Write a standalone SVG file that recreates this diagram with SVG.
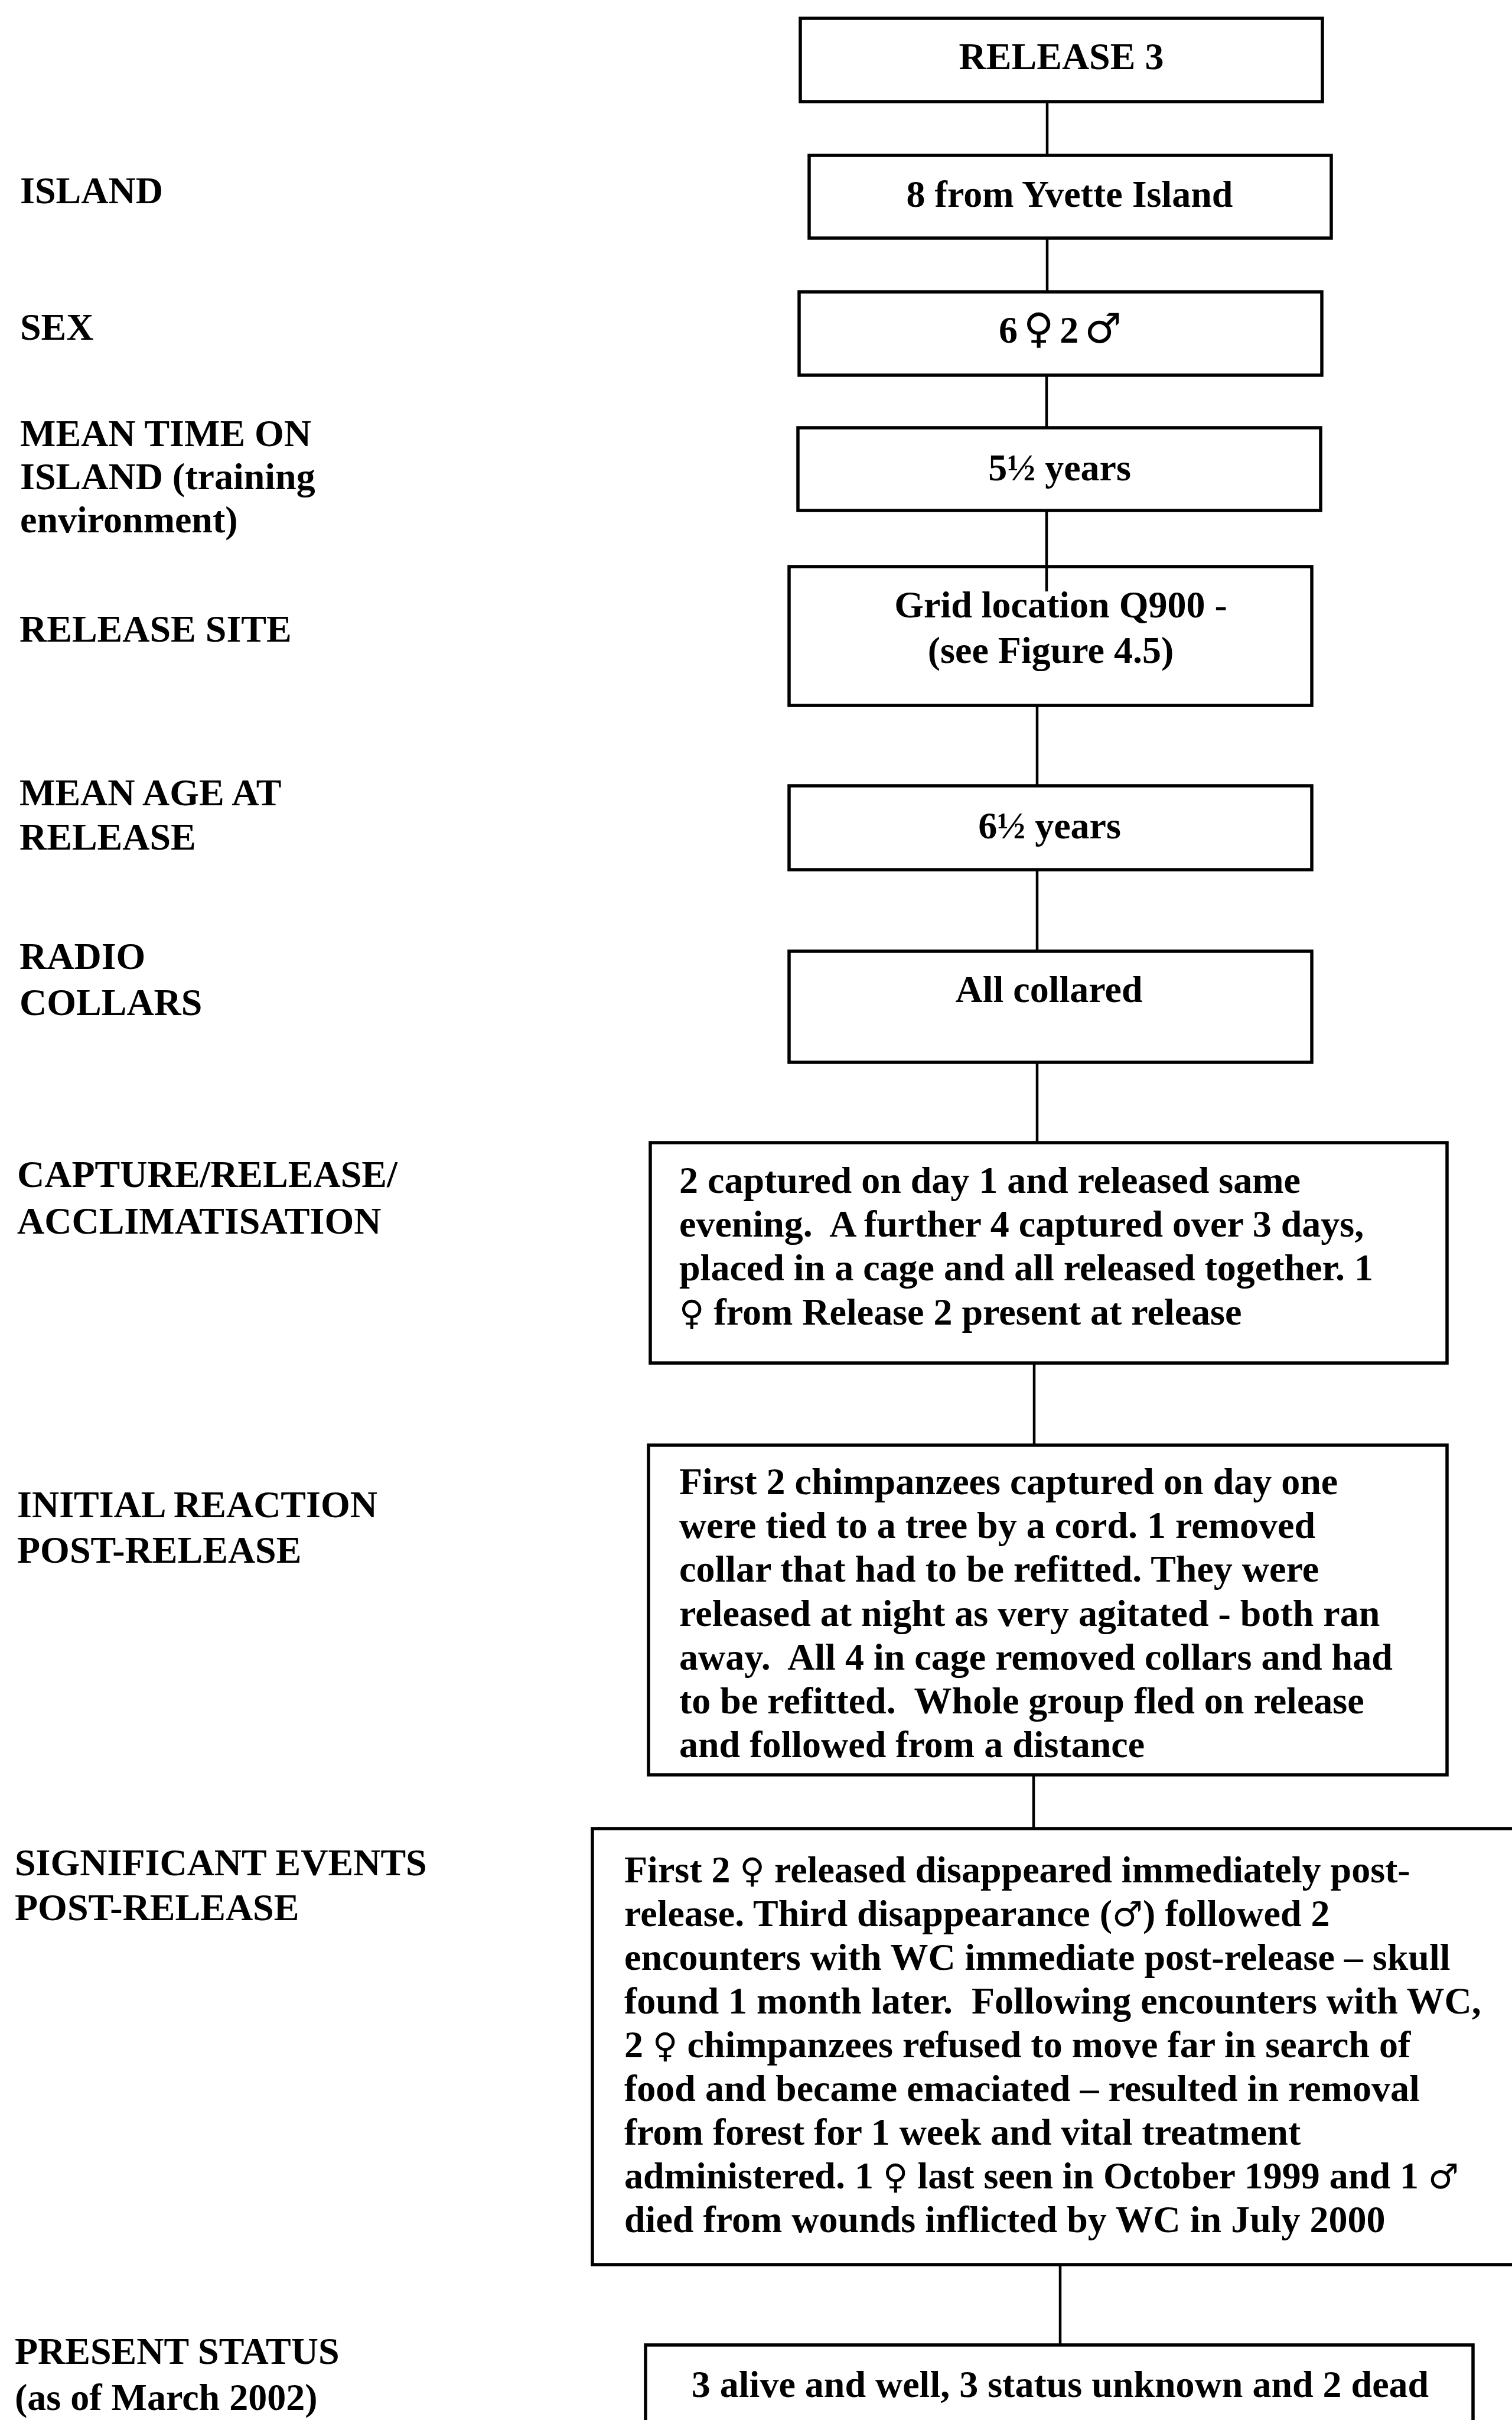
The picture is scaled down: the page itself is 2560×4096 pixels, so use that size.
<svg xmlns="http://www.w3.org/2000/svg" width="2560" height="4096" viewBox="0 0 2560 4096">
<style>
  .bg { fill: #ffffff; }
  .box { fill: #ffffff; stroke: #000000; stroke-width: 5.5; }
  .conn { stroke: #000000; stroke-width: 4.5; fill: none; }
  text { font-family: "Liberation Serif", "Times New Roman", serif; font-weight: bold; font-size: 64px; fill: #000000; }
  .c { text-anchor: middle; }
  .sym { font-family: "DejaVu Sans", sans-serif; font-weight: normal; font-size: 58px; }
  .symL { font-family: "DejaVu Sans", sans-serif; font-weight: normal; font-size: 70px; }
</style>
<rect class="bg" x="0" y="0" width="2560" height="4096"/>

<g id="labels">
  <text x="34" y="344">ISLAND</text>
  <text x="34" y="575">SEX</text>
  <text x="34" y="755">MEAN TIME ON</text>
  <text x="34" y="828">ISLAND (training</text>
  <text x="34" y="901">environment)</text>
  <text x="33" y="1086">RELEASE SITE</text>
  <text x="33" y="1363">MEAN AGE AT</text>
  <text x="33" y="1438">RELEASE</text>
  <text x="33" y="1640">RADIO</text>
  <text x="33" y="1718">COLLARS</text>
  <text x="29" y="2009">CAPTURE/RELEASE/</text>
  <text x="29" y="2088">ACCLIMATISATION</text>
  <text x="29" y="2568">INITIAL REACTION</text>
  <text x="29" y="2645">POST-RELEASE</text>
  <text x="25" y="3174">SIGNIFICANT EVENTS</text>
  <text x="25" y="3250">POST-RELEASE</text>
  <text x="25" y="4001">PRESENT STATUS</text>
  <text x="25" y="4079">(as of March 2002)</text>
</g>

<g id="connectors">
  <line class="conn" x1="1773" y1="172" x2="1773" y2="263"/>
  <line class="conn" x1="1773" y1="403" x2="1773" y2="494"/>
  <line class="conn" x1="1772" y1="635" x2="1772" y2="724"/>
  <line class="conn" x1="1772" y1="864" x2="1772" y2="1001"/>
  <line class="conn" x1="1756" y1="1194" x2="1756" y2="1330"/>
  <line class="conn" x1="1756" y1="1472" x2="1756" y2="1610"/>
  <line class="conn" x1="1756" y1="1798" x2="1756" y2="1934"/>
  <line class="conn" x1="1751" y1="2307" x2="1751" y2="2446"/>
  <line class="conn" x1="1750" y1="3004" x2="1750" y2="3095"/>
  <line class="conn" x1="1795" y1="3833" x2="1795" y2="3969"/>
</g>

<g id="node-release3">
  <rect class="box" x="1355" y="31" width="884" height="141"/>
  <text class="c" x="1797" y="117">RELEASE 3</text>
</g>

<g id="node-island">
  <rect class="box" x="1370" y="263" width="884" height="140"/>
  <text class="c" x="1811" y="350">8 from Yvette Island</text>
</g>

<g id="node-sex">
  <rect class="box" x="1353" y="494" width="885" height="141"/>
  <text class="c" x="1795" y="580">6<tspan class="symL" dx="10">♀</tspan><tspan dx="10">2</tspan><tspan class="symL" dx="10">♂</tspan></text>
</g>

<g id="node-time">
  <rect class="box" x="1351" y="724" width="885" height="140"/>
  <text class="c" x="1794" y="813">5½ years</text>
</g>

<g id="node-site">
  <rect class="box" x="1336" y="959" width="885" height="235"/>
  <line class="conn" x1="1772" y1="959" x2="1772" y2="1001"/>
  <text class="c" x="1796" y="1045">Grid location Q900 -</text>
  <text class="c" x="1779" y="1122">(see Figure 4.5)</text>
</g>

<g id="node-age">
  <rect class="box" x="1336" y="1330" width="885" height="142"/>
  <text class="c" x="1777" y="1419">6½ years</text>
</g>

<g id="node-collars">
  <rect class="box" x="1336" y="1610" width="885" height="188"/>
  <text class="c" x="1776" y="1696">All collared</text>
</g>

<g id="node-capture">
  <rect class="box" x="1101" y="1934" width="1349" height="373"/>
  <text x="1150" y="2019">2 captured on day 1 and released same</text>
  <text x="1150" y="2093">evening.&#160; A further 4 captured over 3 days,</text>
  <text x="1150" y="2167">placed in a cage and all released together. 1</text>
  <text x="1150" y="2242"><tspan class="sym">♀</tspan> from Release 2 present at release</text>
</g>

<g id="node-reaction">
  <rect class="box" x="1098" y="2446" width="1352" height="558"/>
  <text x="1150" y="2529">First 2 chimpanzees captured on day one</text>
  <text x="1150" y="2603">were tied to a tree by a cord. 1 removed</text>
  <text x="1150" y="2677">collar that had to be refitted. They were</text>
  <text x="1150" y="2752">released at night as very agitated - both ran</text>
  <text x="1150" y="2826">away.&#160; All 4 in cage removed collars and had</text>
  <text x="1150" y="2900">to be refitted.&#160; Whole group fled on release</text>
  <text x="1150" y="2974">and followed from a distance</text>
</g>

<g id="node-events">
  <rect class="box" x="1003" y="3095" width="1600" height="738"/>
  <text x="1057" y="3186">First 2 <tspan class="sym">♀</tspan> released disappeared immediately post-</text>
  <text x="1057" y="3260">release. Third disappearance (<tspan class="sym">♂</tspan>) followed 2</text>
  <text x="1057" y="3334">encounters with WC immediate post-release – skull</text>
  <text x="1057" y="3408">found 1 month later.&#160; Following encounters with WC,</text>
  <text x="1057" y="3482">2 <tspan class="sym">♀</tspan> chimpanzees refused to move far in search of</text>
  <text x="1057" y="3556">food and became emaciated – resulted in removal</text>
  <text x="1057" y="3630">from forest for 1 week and vital treatment</text>
  <text x="1057" y="3704">administered. 1 <tspan class="sym">♀</tspan> last seen in October 1999 and 1 <tspan class="sym">♂</tspan></text>
  <text x="1057" y="3778">died from wounds inflicted by WC in July 2000</text>
</g>

<g id="node-status">
  <rect class="box" x="1093" y="3969" width="1401" height="200"/>
  <text class="c" x="1795" y="4057">3 alive and well, 3 status unknown and 2 dead</text>
</g>
</svg>
